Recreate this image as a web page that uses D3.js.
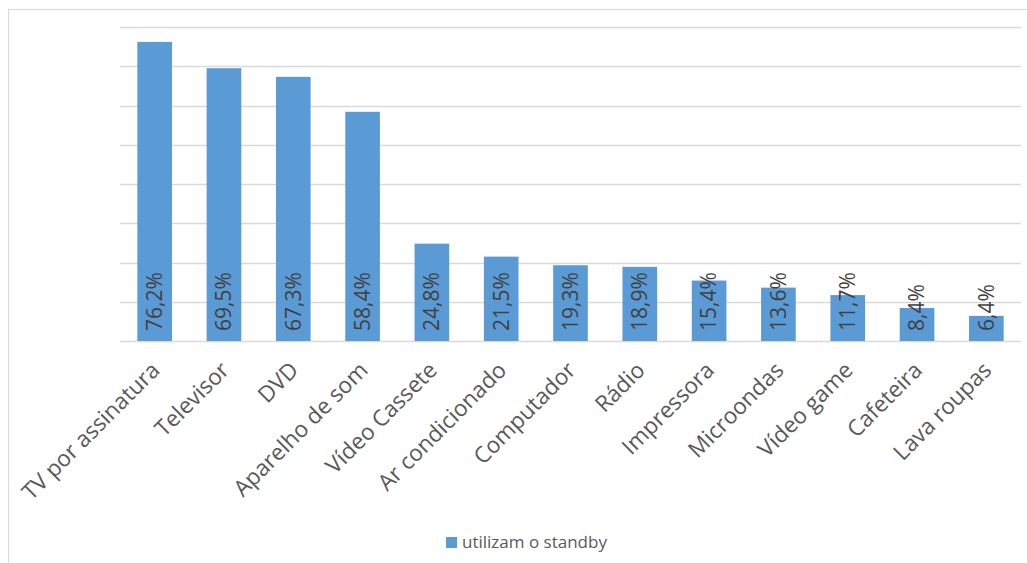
<!DOCTYPE html>
<html>
<head>
<meta charset="utf-8">
<script src="https://cdn.jsdelivr.net/npm/d3@7"></script>
<style>
  body { margin: 0; background: #fff; }
  text { font-family: "Open Sans", sans-serif; }
</style>
</head>
<body>
<div id="chart"></div>
<script>
// --- Data ---
const categories = ["TV por assinatura", "Televisor", "DVD", "Aparelho de som", "Vídeo Cassete",
    "Ar condicionado", "Computador", "Rádio", "Impressora", "Microondas", "Vídeo game", "Cafeteira", "Lava roupas"];
const values = [76.2, 69.5, 67.3, 58.4, 24.8, 21.5, 19.3, 18.9, 15.4, 13.6, 11.7, 8.4, 6.4];
const gridTicks = [0, 10, 20, 30, 40, 50, 60, 70, 80];
const seriesName = "utilizam o standby";

const W = 1027, H = 563;
const plot = { left: 120, right: 1021, top: 27, bottom: 341 };
const barColor = "#5b9bd5";

const svg = d3.select("#chart").append("svg")
    .attr("width", W)
    .attr("height", H);

svg.append("rect").attr("width", W).attr("height", H).attr("fill", "#fff");

// chart border (runs off the right/bottom edge in the reference)
svg.append("rect")
    .attr("x", 8.5).attr("y", 9.5)
    .attr("width", W + 20).attr("height", H + 20)
    .attr("fill", "none")
    .attr("stroke", "#d9d9d9");

const x = d3.scaleBand()
    .domain(categories)
    .range([plot.left, plot.right])
    .paddingInner(0.5)
    .paddingOuter(0.25);

const y = d3.scaleLinear()
    .domain([0, 80])
    .range([plot.bottom, plot.top]);

// gridlines
svg.append("g")
    .selectAll("line")
    .data(gridTicks)
    .join("line")
    .attr("x1", plot.left).attr("x2", plot.right)
    .attr("y1", d => Math.round(y(d)) + 0.5)
    .attr("y2", d => Math.round(y(d)) + 0.5)
    .attr("stroke", "#d9d9d9")
    .attr("stroke-width", 1.3);

// bars
svg.append("g")
    .selectAll("rect")
    .data(values)
    .join("rect")
    .attr("x", (d, i) => x(categories[i]))
    .attr("width", x.bandwidth())
    .attr("y", d => y(d))
    .attr("height", d => y(0) - y(d))
    .attr("fill", barColor);

// value labels, rotated inside the base of each bar
svg.append("g")
    .selectAll("text")
    .data(values)
    .join("text")
    .attr("transform", (d, i) => `translate(${x(categories[i]) + x.bandwidth() / 2}, 331) rotate(-90)`)
    .attr("dy", "0.35em")
    .attr("text-anchor", "start")
    .attr("font-size", 21)
    .attr("fill", "#404040")
    .text(d => d.toFixed(1).replace(".", ",") + "%");

// category labels at -45 degrees
svg.append("g")
    .selectAll("text")
    .data(categories)
    .join("text")
    .attr("transform", d => `translate(${x(d) + x.bandwidth() / 2 + 1}, 366) rotate(-45)`)
    .attr("dy", "0.35em")
    .attr("text-anchor", "end")
    .attr("font-size", 22.5)
    .attr("fill", "#595959")
    .text(d => d);

// legend
const legend = svg.append("g").attr("transform", "translate(446, 537)");
legend.append("rect")
    .attr("width", 11).attr("height", 11)
    .attr("fill", barColor);
legend.append("text")
    .attr("x", 16).attr("y", 11)
    .attr("font-size", 17)
    .attr("fill", "#595959")
    .text(seriesName);
</script>
</body>
</html>
